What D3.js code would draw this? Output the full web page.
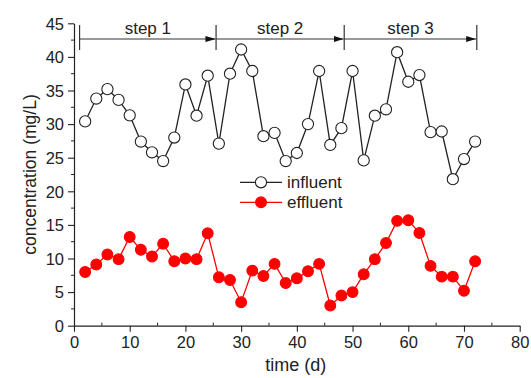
<!DOCTYPE html>
<html>
<head>
<meta charset="utf-8">
<script src="https://cdn.jsdelivr.net/npm/d3@7/dist/d3.min.js"></script>
<style>
  html, body { margin: 0; padding: 0; background: #fff; }
  svg { display: block; font-family: "Liberation Sans", Arial, sans-serif; }
</style>
</head>
<body>
<svg id="chart" width="531" height="378"></svg>
<script>
// Sampling days
const days = [2, 4, 6, 8, 10, 12, 14, 16, 18, 20, 22, 24, 26, 28, 30, 32, 34, 36,
              38, 40, 42, 44, 46, 48, 50, 52, 54, 56, 58, 60, 62, 64, 66, 68, 70, 72];
// Influent concentration (mg/L)
const influent = [30.4, 33.8, 35.2, 33.6, 31.3, 27.4, 25.8, 24.5, 28.0, 35.9, 31.25, 37.2,
                  27.1, 37.5, 41.1, 37.9, 28.2, 28.7, 24.5, 25.7, 30.0, 37.9, 26.9, 29.4,
                  37.9, 24.6, 31.25, 32.2, 40.7, 36.3, 37.3, 28.8, 28.9, 21.8, 24.8, 27.4];
// Effluent concentration (mg/L)
const effluent = [8.0, 9.1, 10.6, 9.9, 13.2, 11.3, 10.3, 12.2, 9.6, 10.0, 9.9, 13.75,
                  7.2, 6.8, 3.5, 8.2, 7.4, 9.2, 6.35, 7.05, 8.1, 9.2, 3.0, 4.5,
                  5.0, 7.65, 9.9, 12.3, 15.6, 15.7, 13.8, 8.9, 7.3, 7.3, 5.2, 9.6];
// Operating phases (start/end day)
const stepNames = ["step 1", "step 2", "step 3"];
const stepBounds = [1, 25.5, 48.5, 72.3];
// Axis ticks
const xTicks = [0, 10, 20, 30, 40, 50, 60, 70, 80];
const yTicks = [0, 5, 10, 15, 20, 25, 30, 35, 40, 45];
const seriesNames = ["influent", "effluent"];

const svg = d3.select("#chart");
const x = d3.scaleLinear().domain([0, 80]).range([74, 519.7]);
const y = d3.scaleLinear().domain([0, 45]).range([325.7, 23.3]);
const axisColor = "#222";

// x axis: major ticks outward, minor ticks inward
const gx = svg.append("g").attr("transform", `translate(0,${y(0)})`)
  .call(d3.axisBottom(x).tickValues(xTicks).tickSize(6).tickSizeOuter(0).tickPadding(2));
gx.append("g").selectAll("line").data(d3.range(5, 80, 10)).join("line")
  .attr("x1", d => x(d)).attr("x2", d => x(d)).attr("y1", 0).attr("y2", -3)
  .attr("stroke", axisColor);

// y axis: major and minor ticks outward
const gy = svg.append("g").attr("transform", `translate(${x(0)},0)`)
  .call(d3.axisLeft(y).tickValues(yTicks).tickSize(6).tickSizeOuter(0).tickPadding(4));
gy.append("g").selectAll("line").data(d3.range(2.5, 45, 5)).join("line")
  .attr("x1", 0).attr("x2", -3).attr("y1", d => y(d)).attr("y2", d => y(d))
  .attr("stroke", axisColor);

[gx, gy].forEach(g => {
  g.select(".domain").attr("stroke", axisColor).attr("stroke-width", 1.2);
  g.selectAll(".tick line").attr("stroke", axisColor).attr("stroke-width", 1.1);
  g.selectAll(".tick text").attr("font-size", 16.5).attr("fill", "#222")
    .attr("font-family", "Liberation Sans, Arial, sans-serif");
});
gx.selectAll(".tick text").attr("dy", "0.85em");
gy.selectAll(".tick text").attr("dy", "0.35em");

// Axis titles
svg.append("text").attr("x", (x(0) + x(80)) / 2 - 1).attr("y", 371)
  .attr("text-anchor", "middle").attr("font-size", 18).attr("fill", "#222")
  .text("time (d)");
svg.append("text")
  .attr("transform", `translate(36,${(y(0) + y(45)) / 2}) rotate(-90)`)
  .attr("text-anchor", "middle").attr("font-size", 17.5).attr("fill", "#222")
  .text("concentration (mg/L)");

// Phase annotation: bars, arrows and labels
const stepY = 39;
const stepColor = "#333";
svg.append("defs").append("marker")
  .attr("id", "arrow").attr("viewBox", "0 0 10 6").attr("refX", 10).attr("refY", 3)
  .attr("markerWidth", 10).attr("markerHeight", 6).attr("markerUnits", "userSpaceOnUse")
  .attr("orient", "auto")
  .append("path").attr("d", "M0,0 L10,3 L0,6 Z").attr("fill", "#111");
const gs = svg.append("g");
gs.selectAll("line.bar").data(stepBounds).join("line").attr("class", "bar")
  .attr("x1", d => x(d)).attr("x2", d => x(d)).attr("y1", 25).attr("y2", 50)
  .attr("stroke", stepColor).attr("stroke-width", 1.2);
gs.selectAll("line.span").data(stepNames).join("line").attr("class", "span")
  .attr("x1", (d, i) => x(stepBounds[i])).attr("x2", (d, i) => x(stepBounds[i + 1]) - 0.6)
  .attr("y1", stepY).attr("y2", stepY)
  .attr("stroke", stepColor).attr("stroke-width", 1.2).attr("marker-end", "url(#arrow)");
gs.selectAll("text").data(stepNames).join("text")
  .attr("x", (d, i) => (x(stepBounds[i]) + x(stepBounds[i + 1])) / 2)
  .attr("y", 34).attr("text-anchor", "middle").attr("font-size", 17).attr("fill", "#222")
  .text(d => d);

// Series
const series = [
  { name: seriesNames[0], values: influent, color: "#222", fill: "#fff", r: 5.6 },
  { name: seriesNames[1], values: effluent, color: "#ff0000", fill: "#ff0000", r: 5.4 }
];
const line = d3.line().x(d => x(d[0])).y(d => y(d[1]));
series.forEach(s => {
  const pts = days.map((d, i) => [d, s.values[i]]);
  svg.append("path").datum(pts).attr("d", line)
    .attr("fill", "none").attr("stroke", s.color).attr("stroke-width", 1.3);
  svg.append("g").selectAll("circle").data(pts).join("circle")
    .attr("cx", d => x(d[0])).attr("cy", d => y(d[1])).attr("r", s.r)
    .attr("fill", s.fill).attr("stroke", s.color).attr("stroke-width", 1.1);
});

// Legend
const lg = svg.append("g");
series.forEach((s, i) => {
  const ly = 182.3 + i * 20;
  lg.append("line").attr("x1", 240).attr("x2", 282).attr("y1", ly).attr("y2", ly)
    .attr("stroke", s.color).attr("stroke-width", 1.3);
  lg.append("circle").attr("cx", 261).attr("cy", ly).attr("r", s.r)
    .attr("fill", s.fill).attr("stroke", s.color).attr("stroke-width", 1.1);
  lg.append("text").attr("x", 287).attr("y", ly).attr("dy", "0.35em")
    .attr("font-size", 17).attr("fill", "#222").text(s.name);
});
</script>
</body>
</html>
